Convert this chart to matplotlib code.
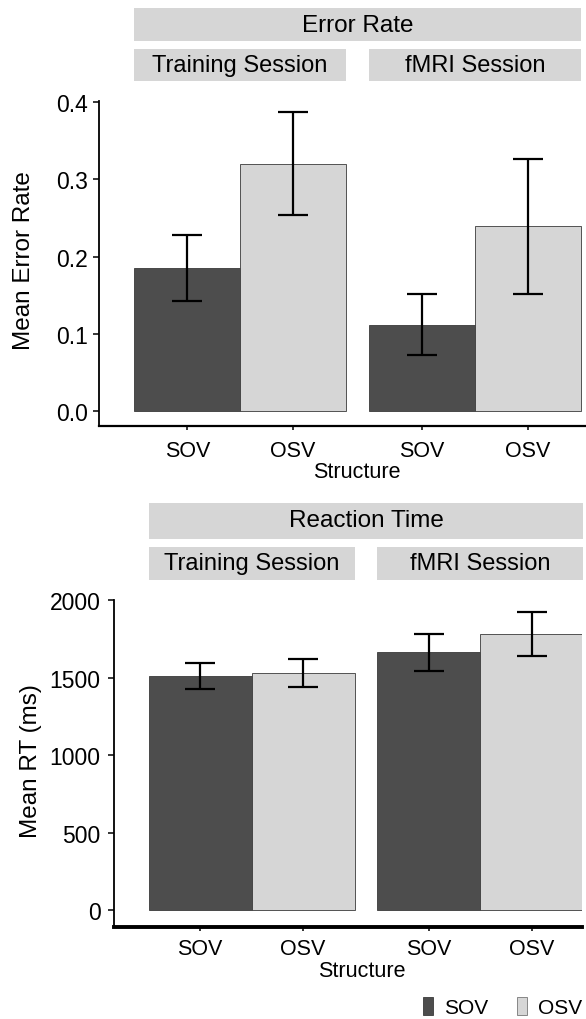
import matplotlib
matplotlib.use("Agg")

import matplotlib.pyplot as plt
import matplotlib.transforms as mtransforms
from matplotlib.patches import Patch, Rectangle
import numpy as np

plt.rcParams["font.family"] = ["Liberation Sans", "DejaVu Sans"]

# ── data ──────────────────────────────────────────────
sessions = ["Training Session", "fMRI Session"]
structures = ["SOV", "OSV"]

# error rate: (training SOV, training OSV, fMRI SOV, fMRI OSV)
err_mean = [0.185, 0.320, 0.112, 0.239]
err_low = [0.142, 0.254, 0.073, 0.152]
err_high = [0.228, 0.387, 0.151, 0.326]
err_ticks = [0.0, 0.1, 0.2, 0.3, 0.4]
err_ticklabels = ["0.0", "0.1", "0.2", "0.3", "0.4"]

# reaction time in ms
rt_mean = [1512, 1527, 1662, 1780]
rt_low = [1428, 1439, 1544, 1640]
rt_high = [1595, 1619, 1780, 1920]
rt_ticks = [0, 500, 1000, 1500, 2000]
rt_ticklabels = ["0", "500", "1000", "1500", "2000"]

# ── style ─────────────────────────────────────────────
COLOR_SOV = "#4d4d4d"
COLOR_OSV = "#d6d6d6"
COLOR_STRIP = "#d6d6d6"
W, H = 586, 1020
GAP = 0.22  # space between the two session panels, in bar widths

fig = plt.figure(figsize=(W / 100, H / 100), dpi=100, facecolor="white")


def px_axes(left, top, right, bottom):
    return fig.add_axes([left / W, 1 - bottom / H, (right - left) / W, (bottom - top) / H])


def fy(px):
    return 1 - px / H


def draw_panel(ax, means, low, high, ylim, xlim, ticks, ticklabels, ylabel,
               title, strip_top, strip_sub, xspine_w, ylabel_x, xlabel_y, xtick_pad, ytick_pad):
    n_s = len(structures)
    pos = np.array([s * (n_s + GAP) + k for s in range(len(sessions)) for k in range(n_s)])
    colors = [COLOR_SOV, COLOR_OSV] * len(sessions)
    means = np.array(means)
    yerr = np.array([means - np.array(low), np.array(high) - means])

    ax.bar(pos, means, width=1.0, color=colors, edgecolor="#3a3a3a", linewidth=0.6, zorder=2)
    ax.errorbar(pos, means, yerr=yerr, fmt="none", ecolor="black", elinewidth=1.6,
                capsize=10.5, capthick=1.6, zorder=3)

    ax.set_xlim(*xlim)
    ax.set_ylim(*ylim)
    ax.set_yticks(ticks)
    ax.set_yticklabels(ticklabels, fontsize=16.5)
    ax.set_xticks(pos)
    ax.set_xticklabels(structures * len(sessions), fontsize=15.5)
    ax.tick_params(axis="y", length=4, width=1.1, pad=ytick_pad)
    ax.tick_params(axis="x", length=3, width=1.1, pad=xtick_pad)
    ax.spines["top"].set_visible(False)
    ax.spines["right"].set_visible(False)
    ax.spines["left"].set_linewidth(1.3)
    ax.spines["bottom"].set_linewidth(xspine_w)

    ax.set_ylabel(ylabel, fontsize=17.5)
    ax.yaxis.set_label_coords(ylabel_x, 0.51)
    ax.text(0.53, xlabel_y, "Structure", transform=ax.transAxes, fontsize=15.5,
            ha="center", va="center")

    # facet strips
    trans = mtransforms.blended_transform_factory(ax.transData, fig.transFigure)
    y0, y1 = strip_top
    x_left, x_right = pos[0] - 0.5, pos[-1] + 0.5
    ax.add_patch(Rectangle((x_left, fy(y1)), x_right - x_left, fy(y0) - fy(y1),
                           transform=trans, color=COLOR_STRIP, clip_on=False, lw=0))
    ax.text((x_left + x_right) / 2, fy((y0 + y1) / 2), title, transform=trans,
            fontsize=17.5, ha="center", va="center")
    y0, y1 = strip_sub
    for s, name in enumerate(sessions):
        a = pos[s * n_s] - 0.5
        b = pos[s * n_s + n_s - 1] + 0.5
        ax.add_patch(Rectangle((a, fy(y1)), b - a, fy(y0) - fy(y1),
                               transform=trans, color=COLOR_STRIP, clip_on=False, lw=0))
        ax.text((a + b) / 2, fy((y0 + y1) / 2), name, transform=trans,
                fontsize=17, ha="center", va="center")


ax1 = px_axes(99, 101.7, 586, 426.7)
draw_panel(ax1, err_mean, err_low, err_high, (-0.0186, 0.4013), (-0.835, 3.77),
           err_ticks, err_ticklabels, "Mean Error Rate", "Error Rate",
           (9.3, 41.7), (50, 82.3), 1.6, -0.131, -0.142, 7, 4)

ax2 = px_axes(114.3, 601, 581.7, 928.3)
draw_panel(ax2, rt_mean, rt_low, rt_high, (-109.5, 2000), (-0.834, 3.705),
           rt_ticks, rt_ticklabels, "Mean RT (ms)", "Reaction Time",
           (503.5, 539.5), (547.7, 581), 2.8, -0.155, -0.133, 5, 6)

handles = [Patch(facecolor=COLOR_SOV, edgecolor="#3a3a3a", linewidth=0.6),
           Patch(facecolor=COLOR_OSV, edgecolor="#777777", linewidth=0.6)]
fig.legend(handles, structures, loc="lower right", bbox_to_anchor=(582 / W, 1.5 / H),
           ncol=2, frameon=False, fontsize=15, handlelength=0.5, handleheight=0.95,
           handletextpad=0.5, columnspacing=1.4, borderpad=0, borderaxespad=0)

fig.savefig("out.png", dpi=100, facecolor="white")
plt.close(fig)
